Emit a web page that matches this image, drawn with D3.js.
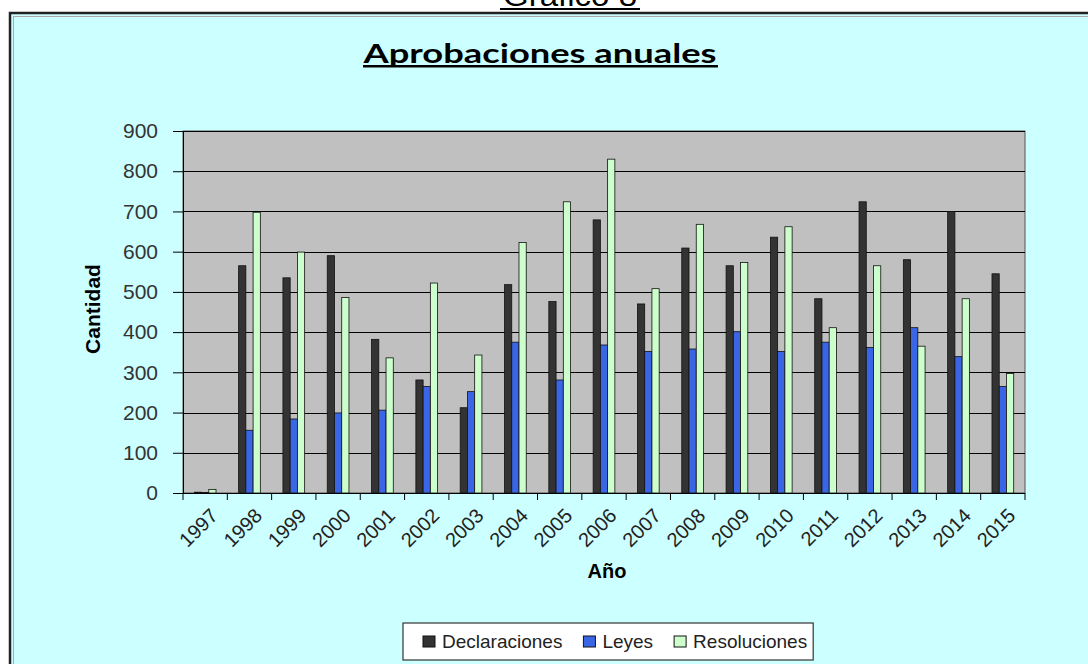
<!DOCTYPE html>
<html>
<head>
<meta charset="utf-8">
<script src="https://cdn.jsdelivr.net/npm/d3@7"></script>
<style>
    body { margin: 0; background: #fff; }
    text { font-family: "Liberation Sans", Arial, sans-serif; }
</style>
</head>
<body>
<svg id="chart" width="1088" height="664"></svg>
<script>
const years = ['1997','1998','1999','2000','2001','2002','2003','2004','2005','2006',
               '2007','2008','2009','2010','2011','2012','2013','2014','2015'];
const seriesNames = ['Declaraciones', 'Leyes', 'Resoluciones'];
const declaraciones = [2, 565, 535, 590, 382, 281, 212, 518, 476, 679, 470, 609, 565, 636, 483, 724, 580, 700, 545];
const leyes         = [1, 156, 184, 199, 206, 265, 252, 375, 281, 368, 352, 358, 401, 352, 375, 362, 411, 339, 265];
const resoluciones  = [9, 698, 599, 486, 336, 522, 343, 623, 724, 830, 508, 668, 573, 662, 411, 565, 365, 483, 297];
const yTicks = [0, 100, 200, 300, 400, 500, 600, 700, 800, 900];

const colors = {
    page: '#ccffff',
    plot: '#c0c0c0',
    Declaraciones: '#333333',
    Leyes: '#3a66e6',
    Resoluciones: '#ccffcc'
};

const svg = d3.select('#chart');
const plot = {left: 183, right: 1025, top: 131, bottom: 493};

// frame
svg.append('rect').attr('x', 10).attr('y', 13).attr('width', 1100).attr('height', 700)
    .attr('fill', colors.page).attr('stroke', '#222').attr('stroke-width', 2.5);
svg.append('rect').attr('x', 13.5).attr('y', 16.5).attr('width', 1100).attr('height', 700)
    .attr('fill', 'none').attr('stroke', '#aaa').attr('stroke-width', 1);

// page heading, mostly cut off at the top (as in the source)
svg.append('text').attr('x', 570).attr('y', 6).attr('text-anchor', 'middle')
    .attr('font-size', 30).attr('fill', '#000')
    .attr('textLength', 134).attr('lengthAdjust', 'spacingAndGlyphs')
    .text('Gráfico 8');
svg.append('rect').attr('x', 500).attr('y', 8).attr('width', 140).attr('height', 2).attr('fill', '#000');

// chart title
svg.append('text').attr('x', 540).attr('y', 63).attr('text-anchor', 'middle')
    .style('font-family', 'Lato, "Open Sans", sans-serif')
    .attr('font-size', 27).attr('font-weight', 'bold')
    .attr('textLength', 353).attr('lengthAdjust', 'spacingAndGlyphs')
    .text('Aprobaciones anuales');
svg.append('rect').attr('x', 363).attr('y', 65).attr('width', 355).attr('height', 2.5).attr('fill', '#000');

const x0 = d3.scaleBand().domain(years).range([plot.left, plot.right]);
const groupWidth = x0.bandwidth() * 0.49;
const x1 = d3.scaleBand().domain(seriesNames).range([0, groupWidth]);
const y = d3.scaleLinear().domain([0, 900]).range([plot.bottom, plot.top]);

svg.append('rect')
    .attr('x', plot.left).attr('y', plot.top)
    .attr('width', plot.right - plot.left).attr('height', plot.bottom - plot.top)
    .attr('fill', colors.plot).attr('stroke', '#555').attr('stroke-width', 1);

// gridlines
svg.append('g').selectAll('line').data(yTicks.slice(1)).join('line')
    .attr('x1', plot.left).attr('x2', plot.right)
    .attr('y1', d => Math.round(y(d)) + 0.5).attr('y2', d => Math.round(y(d)) + 0.5)
    .attr('stroke', '#000').attr('stroke-width', 1);

// bars
const table = years.map((yr, i) => ({
    year: yr,
    values: [
        {name: 'Declaraciones', value: declaraciones[i]},
        {name: 'Leyes', value: leyes[i]},
        {name: 'Resoluciones', value: resoluciones[i]}
    ]
}));

svg.append('g').selectAll('g').data(table).join('g')
    .attr('transform', d => `translate(${x0(d.year) + (x0.bandwidth() - groupWidth) / 2},0)`)
    .selectAll('rect').data(d => d.values).join('rect')
    .attr('x', d => x1(d.name))
    .attr('y', d => y(d.value))
    .attr('width', x1.bandwidth())
    .attr('height', d => y(0) - y(d.value))
    .attr('fill', d => colors[d.name])
    .attr('stroke', '#111').attr('stroke-width', 0.8);

// y axis
const yAxis = svg.append('g').attr('transform', `translate(${plot.left},0)`)
    .call(d3.axisLeft(y).tickValues(yTicks).tickSize(10).tickPadding(15));
yAxis.select('.domain').attr('stroke', '#000');
yAxis.selectAll('.tick line').attr('stroke', '#000');
yAxis.selectAll('.tick text')
    .attr('font-family', '"Liberation Sans", Arial, sans-serif')
    .attr('font-size', 21).attr('fill', '#333');

// x axis
const xAxis = svg.append('g');
xAxis.append('line').attr('x1', plot.left).attr('x2', plot.right)
    .attr('y1', plot.bottom + 0.5).attr('y2', plot.bottom + 0.5).attr('stroke', '#000');
xAxis.selectAll('line.tick').data(years.concat(['end'])).join('line')
    .attr('class', 'tick')
    .attr('x1', d => d === 'end' ? plot.right : x0(d))
    .attr('x2', d => d === 'end' ? plot.right : x0(d))
    .attr('y1', plot.bottom).attr('y2', plot.bottom + 7)
    .attr('stroke', '#000');
xAxis.selectAll('text').data(years).join('text')
    .attr('transform', d => `translate(${x0(d) + x0.bandwidth() / 2 + 4},${plot.bottom + 14}) rotate(-45)`)
    .attr('text-anchor', 'end')
    .attr('dy', '0.7em')
    .attr('font-size', 20).attr('fill', '#222')
    .text(d => d);

// axis titles
svg.append('text').attr('x', (plot.left + plot.right) / 2 + 3).attr('y', 578)
    .attr('text-anchor', 'middle').attr('font-size', 20).attr('font-weight', 'bold')
    .text('Año');
svg.append('text')
    .attr('transform', `translate(100,${(plot.top + plot.bottom) / 2 - 3}) rotate(-90)`)
    .attr('text-anchor', 'middle').attr('font-size', 21).attr('font-weight', 'bold')
    .text('Cantidad');

// legend
const legend = svg.append('g');
const legendBox = legend.append('rect')
    .attr('y', 623).attr('height', 37)
    .attr('fill', '#fff').attr('stroke', '#333').attr('stroke-width', 1.2);
let lx = 423;
seriesNames.forEach(name => {
    legend.append('rect').attr('x', lx).attr('y', 636).attr('width', 12).attr('height', 11)
        .attr('fill', colors[name]).attr('stroke', '#111').attr('stroke-width', 1);
    const t = legend.append('text').attr('x', lx + 19).attr('y', 648)
        .attr('font-size', 19).attr('fill', '#222').text(name);
    lx += 19 + t.node().getComputedTextLength() + 21;
});
legendBox.attr('x', 403).attr('width', lx - 21 + 6 - 403);
</script>
</body>
</html>
